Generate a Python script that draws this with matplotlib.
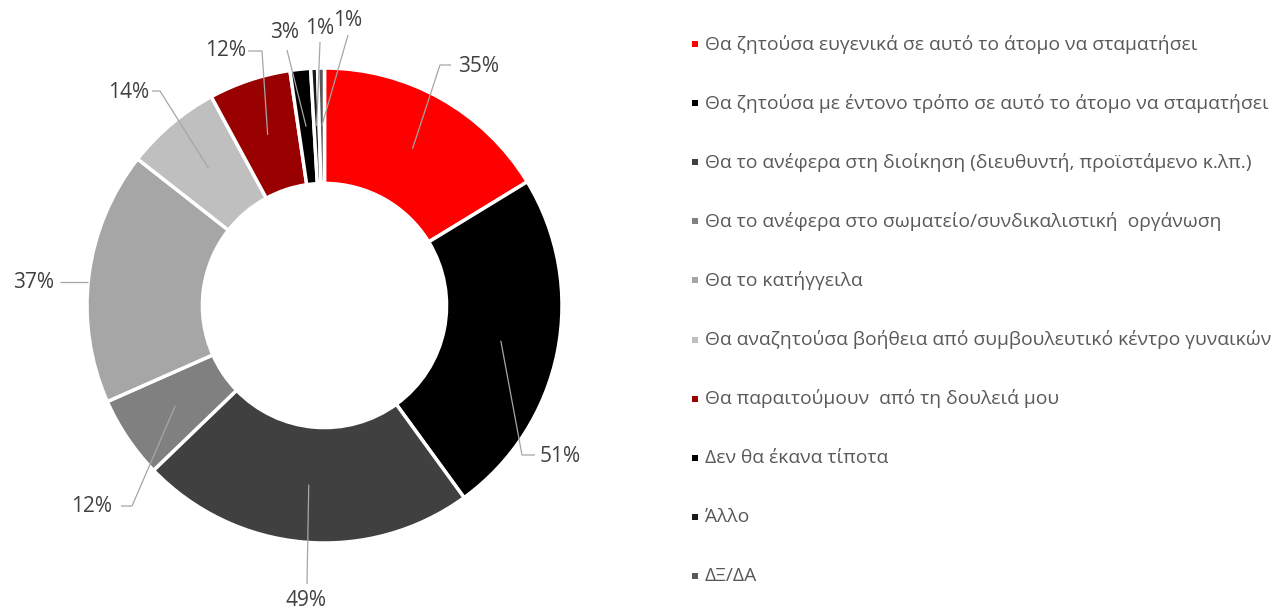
import numpy as np
import matplotlib
matplotlib.use('Agg')
import matplotlib.pyplot as plt

plt.rcParams['font.family'] = ['Open Sans', 'DejaVu Sans']

# data
categories = [
    'Θα ζητούσα ευγενικά σε αυτό το άτομο να σταματήσει',
    'Θα ζητούσα με έντονο τρόπο σε αυτό το άτομο να σταματήσει',
    'Θα το ανέφερα στη διοίκηση (διευθυντή, προϊστάμενο κ.λπ.)',
    'Θα το ανέφερα στο σωματείο/συνδικαλιστική  οργάνωση',
    'Θα το κατήγγειλα',
    'Θα αναζητούσα βοήθεια από συμβουλευτικό κέντρο γυναικών',
    'Θα παραιτούμουν  από τη δουλειά μου',
    'Δεν θα έκανα τίποτα',
    'Άλλο',
    'ΔΞ/ΔΑ',
]
values = [35, 51, 49, 12, 37, 14, 12, 3, 1, 1]
colors = ['#FF0000', '#000000', '#404040', '#808080', '#A6A6A6',
          '#BFBFBF', '#990000', '#000000', '#1A1A1A', '#595959']

# layout (pixels): label position, alignment, leader path after the start point
W, H = 1274, 611
CX, CY, R = 324.5, 305.5, 237.5
label_layout = [
    ((458, 66), 'left', 0.757, [(440, 65), (451, 65)]),
    ((540, 456), 'left', 0.757, [(522, 455), (535, 455)]),
    ((306, 601), 'center', 0.757, [(307, 584)]),
    ((112, 506), 'right', 0.757, [(132, 506), (121, 506)]),
    ((54, 282), 'right', 1.0, [(60, 282)]),
    ((149, 92), 'right', 0.757, [(160, 91), (152, 91)]),
    ((246, 50), 'right', 0.757, [(262, 51), (248, 51)]),
    ((285, 33), 'center', 0.757, [(287, 50)]),
    ((320, 28), 'center', 0.757, [(320, 42)]),
    ((348, 21), 'center', 0.757, [(348, 35)]),
]


def P(px, py):
    return (px - CX) / R, (CY - py) / R


fig = plt.figure(figsize=(W / 100, H / 100), dpi=100)
ax = fig.add_axes([0, 0, 1, 1])
wedges, _ = ax.pie(values, colors=colors, startangle=90, counterclock=False,
                   radius=1.0, wedgeprops=dict(width=0.486, edgecolor='white', linewidth=2.5))
ax.set_aspect('auto')
ax.set_xlim(-CX / R, (W - CX) / R)
ax.set_ylim(-(H - CY) / R, CY / R)
ax.axis('off')

for w, v, (tpos, ha, r0, path) in zip(wedges, values, label_layout):
    ang = np.deg2rad((w.theta1 + w.theta2) / 2)
    if r0 < 1:
        x0, y0 = r0 * np.cos(ang), r0 * np.sin(ang)
    else:
        y0 = P(0, path[0][1])[1]
        x0 = -np.sqrt(1 - y0 ** 2) if np.cos(ang) < 0 else np.sqrt(1 - y0 ** 2)
    pts = [(x0, y0)] + [P(*p) for p in path]
    xs, ys = zip(*pts)
    ax.plot(xs, ys, color='#A6A6A6', lw=0.9, solid_capstyle='butt', zorder=3)
    tx, ty = P(*tpos)
    ax.text(tx, ty, '%d%%' % v, ha=ha, va='center', fontsize=15, color='#404040', zorder=4)

# legend
for i, (cat, c) in enumerate(zip(categories, colors)):
    ly = 44 + i * 59.1
    mx, my = P(695, ly)
    ax.scatter([mx], [my], marker='s', s=15, color=c, linewidths=0, zorder=4)
    tx, ty = P(705, ly)
    ax.text(tx, ty, cat, ha='left', va='center', fontsize=13.9, color='#595959')

fig.savefig('out.png', dpi=100)
